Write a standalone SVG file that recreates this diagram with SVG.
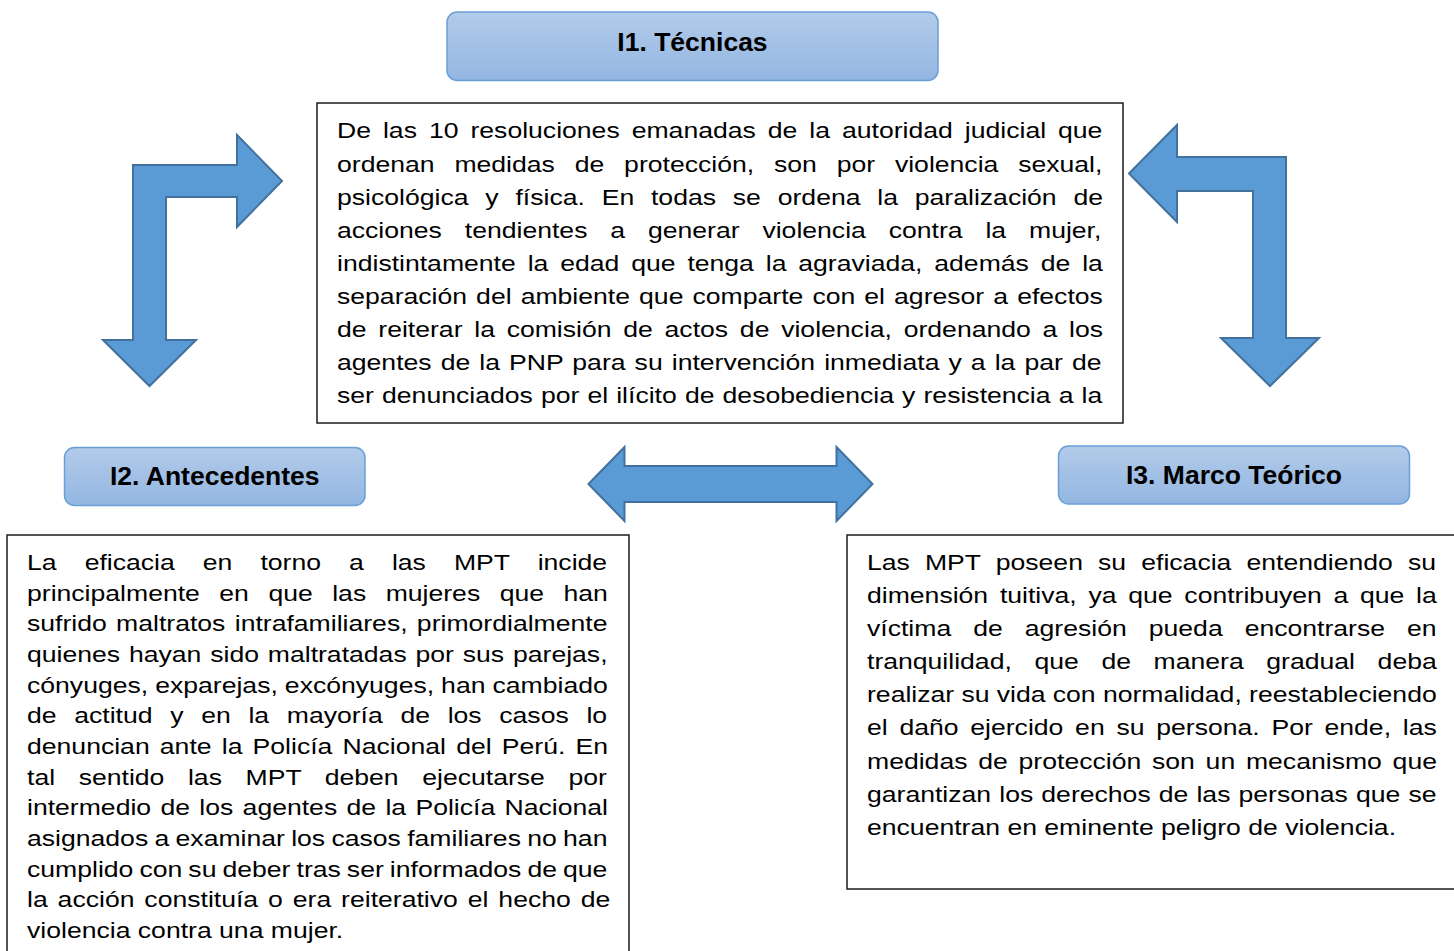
<svg xmlns="http://www.w3.org/2000/svg" width="1454" height="951" viewBox="0 0 1454 951">
<defs>
<linearGradient id="tg" x1="0" y1="0" x2="0" y2="1">
<stop offset="0" stop-color="#b2cbe9"/>
<stop offset="1" stop-color="#93b6e2"/>
</linearGradient>
<style>
.title{fill:url(#tg);stroke:#6a9fd8;stroke-width:1.5}
.tt{font-family:"Liberation Sans",Arial,sans-serif;font-weight:bold;font-size:26.5px;fill:#000;text-anchor:middle}
.box{fill:#fff;stroke:#1a1a1a;stroke-width:1.5}
.body{font-family:"Liberation Sans",Arial,sans-serif;font-size:22px;fill:#000}
.arrow{fill:#5b9bd5;stroke:#41719c;stroke-width:2;stroke-linejoin:miter}
</style>
</defs>
<rect width="1454" height="951" fill="#fff"/>

<g id="connectors">
<path class="arrow" d="M103,340 L133,340 L133,165 L237,165 L237,135 L282,181 L237,227 L237,197 L166,197 L166,340 L196,340 L149.5,386 Z"/>
<path class="arrow" d="M1129,173.5 L1177,125 L1177,157 L1286,157 L1286,338 L1319,338 L1270,386 L1221,338 L1253,338 L1253,191 L1177,191 L1177,222 Z"/>
<path class="arrow" d="M588.5,484 L624.5,447 L624.5,466 L836.5,466 L836.5,447 L872.5,484 L836.5,521 L836.5,502 L624.5,502 L624.5,521 Z"/>
</g>

<g id="node-i1">
<rect class="title" x="447" y="12" width="491" height="68.5" rx="10"/>
<text class="tt" x="692.5" y="51">I1. Técnicas</text>
</g>

<g id="node-i2">
<rect class="title" x="64.5" y="447.5" width="300.5" height="58" rx="10"/>
<text class="tt" x="214.75" y="485">I2. Antecedentes</text>
</g>

<g id="node-i3">
<rect class="title" x="1058.5" y="446" width="351" height="58" rx="10"/>
<text class="tt" x="1234" y="483.5">I3. Marco Teórico</text>
</g>

<g id="node-center">
<rect class="box" x="317" y="103" width="806" height="320"/>
<g class="body" transform="translate(337,0) scale(1.2091,1)">
<text x="0" y="138.5" word-spacing="3.8">De las 10 resoluciones emanadas de la autoridad judicial que</text>
<text x="0" y="171.6" word-spacing="10.3">ordenan medidas de protección, son por violencia sexual,</text>
<text x="0" y="204.7" word-spacing="7.8">psicológica y física. En todas se ordena la paralización de</text>
<text x="0" y="237.8" word-spacing="12.8">acciones tendientes a generar violencia contra la mujer,</text>
<text x="0" y="270.9" word-spacing="3.7">indistintamente la edad que tenga la agraviada, además de la</text>
<text x="0" y="304" word-spacing="1.4">separación del ambiente que comparte con el agresor a efectos</text>
<text x="0" y="337.1" word-spacing="3.6">de reiterar la comisión de actos de violencia, ordenando a los</text>
<text x="0" y="370.2" word-spacing="1.4">agentes de la PNP para su intervención inmediata y a la par de</text>
<text x="0" y="403.3" word-spacing="0.6">ser denunciados por el ilícito de desobediencia y resistencia a la</text>
</g>
</g>

<g id="node-left">
<rect class="box" x="7" y="535" width="622" height="430"/>
<g class="body" transform="translate(27,0) scale(1.2091,1)">
<text x="0" y="570" word-spacing="17.1">La eficacia en torno a las MPT incide</text>
<text x="0" y="600.7" word-spacing="10">principalmente en que las mujeres que han</text>
<text x="0" y="631.3" word-spacing="1.6">sufrido maltratos intrafamiliares, primordialmente</text>
<text x="0" y="662" word-spacing="1.2">quienes hayan sido maltratadas por sus parejas,</text>
<text x="0" y="692.7" word-spacing="-0.3">cónyuges, exparejas, excónyuges, han cambiado</text>
<text x="0" y="723.4" word-spacing="8.5">de actitud y en la mayoría de los casos lo</text>
<text x="0" y="754" word-spacing="2.3">denuncian ante la Policía Nacional del Perú. En</text>
<text x="0" y="784.7" word-spacing="13.4">tal sentido las MPT deben ejecutarse por</text>
<text x="0" y="815.4" word-spacing="1.6">intermedio de los agentes de la Policía Nacional</text>
<text x="0" y="846" word-spacing="-0.9">asignados a examinar los casos familiares no han</text>
<text x="0" y="876.7" word-spacing="-1.1">cumplido con su deber tras ser informados de que</text>
<text x="0" y="907.4" word-spacing="2.1">la acción constituía o era reiterativo el hecho de</text>
<text x="0" y="938">violencia contra una mujer.</text>
</g>
</g>

<g id="node-right">
<rect class="box" x="847" y="535" width="620" height="354"/>
<g class="body" transform="translate(867,0) scale(1.2091,1)">
<text x="0" y="570" word-spacing="6.4">Las MPT poseen su eficacia entendiendo su</text>
<text x="0" y="603.1" word-spacing="3.6">dimensión tuitiva, ya que contribuyen a que la</text>
<text x="0" y="636.2" word-spacing="12.1">víctima de agresión pueda encontrarse en</text>
<text x="0" y="669.3" word-spacing="12.6">tranquilidad, que de manera gradual deba</text>
<text x="0" y="702.4" word-spacing="-0.1">realizar su vida con normalidad, reestableciendo</text>
<text x="0" y="735.5" word-spacing="3.6">el daño ejercido en su persona. Por ende, las</text>
<text x="0" y="768.6" word-spacing="2.8">medidas de protección son un mecanismo que</text>
<text x="0" y="801.7" word-spacing="0.6">garantizan los derechos de las personas que se</text>
<text x="0" y="834.8">encuentran en eminente peligro de violencia.</text>
</g>
</g>
</svg>
